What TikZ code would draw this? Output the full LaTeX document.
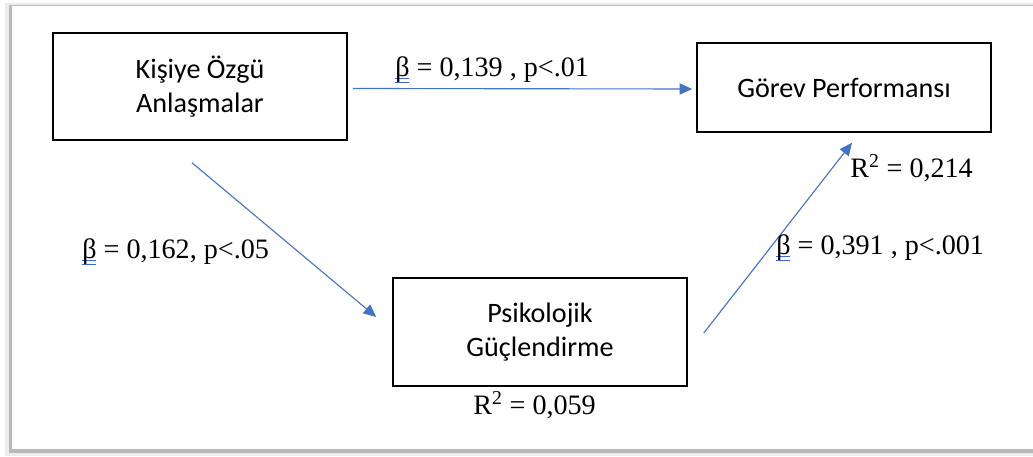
\documentclass[tikz,border=0pt]{standalone}
\usepackage{fontspec}
\setmainfont{Liberation Serif}
\newfontfamily\boxfont{Carlito}
\usepackage{xcolor}
\definecolor{arrblue}{HTML}{4472C4}
\definecolor{spellblue}{HTML}{3A66D6}
\usetikzlibrary{arrows.meta, positioning, calc}
% beta with the blue double underline
\newcommand{\ubeta}{\leavevmode\rlap{\color{spellblue}\rule[-1.5pt]{0.5em}{0.6pt}}\rlap{\color{spellblue}\rule[-4pt]{0.5em}{0.6pt}}β}

\begin{document}
\begin{tikzpicture}[x=0.025cm, y=-0.025cm,
  box/.style={draw=black, line width=1.1pt, minimum width=7.35cm, align=center,
    font=\boxfont\fontsize{20}{24.5}\selectfont},
  arr/.style={-{Triangle[length=9pt, width=8pt]}, arrblue, line width=0.8pt},
  lbl/.style={anchor=west, inner sep=0pt, font=\fontsize{20}{24}\selectfont}]
\useasboundingbox (0,0) rectangle (1033,457);

% Frame and shadow
\fill[gray!15] (5,3) rectangle (1033,456);
\fill[gray!55] (9,5) rectangle (1033,453);
\fill[white] (12,6) rectangle (1033,449);

% Boxes
\node[box, minimum height=2.675cm] (kisiye) at (200,86.5) {Kişiye Özgü\\Anlaşmalar};
\node[box, minimum height=2.225cm] (gorev) at (844,87.5) {Görev Performansı};
\node[box, minimum height=2.7cm] (psiko) at (540,332) {Psikolojik\\Güçlendirme};

% Arrows
\draw[arr] ($(kisiye.east)+(5,2)$) -- ($(gorev.west)+(-4,1.5)$);
\draw[arr] ($(kisiye.south)+(-8,22)$) -- ($(psiko.west)+(-16,-15)$);
\draw[arr] ($(psiko.east)+(16,1)$) -- ($(gorev.south)+(8,10)$);

% Labels
\node[lbl] (b1) at (395,70) {\ubeta{} = 0,139 , p<.01};
\node[lbl] (b2) at (82,252) {\ubeta{} = 0,162, p<.05};
\node[lbl] (b3) at (776,248) {\ubeta{} = 0,391 , p<.001};
\node[lbl] (r1) at (850,168) {R\textsuperscript{2} = 0,214};
\node[lbl] (r2) at (473,405) {R\textsuperscript{2} = 0,059};
\end{tikzpicture}
\end{document}
